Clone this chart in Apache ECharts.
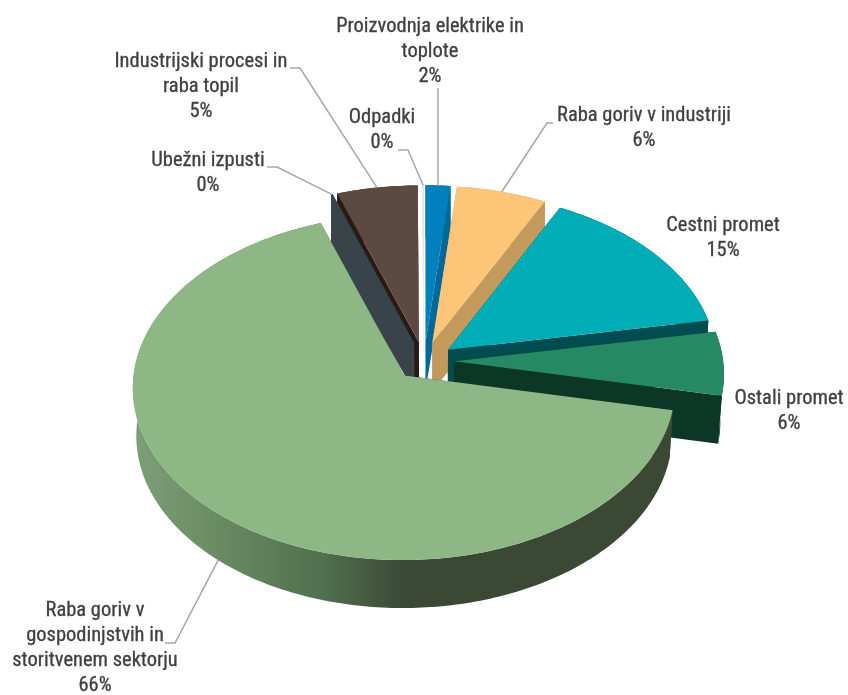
<!DOCTYPE html>
<html><head><meta charset="utf-8">
<style>html,body{margin:0;padding:0;background:#fff}#c{width:848px;height:695px}</style>
<script src="https://cdn.jsdelivr.net/npm/echarts@6/dist/echarts.min.js"></script>
</head><body><div id="c"></div>
<script>
const categories = ['Proizvodnja elektrike in\ntoplote','Raba goriv v industriji','Cestni promet','Ostali promet','Raba goriv v\ngospodinjstvih in\nstoritvenem sektorju','Ubežni izpusti','Industrijski procesi in\nraba topil','Odpadki'];
const shares = [1.6, 5.8, 14.8, 6.0, 66.4, 0.1, 5.2, 0.1];
const topColors = ['#0080BC','#FCC577','#00ACB5','#258A63','#8DB886','#38444A','#5C4A40','#E4E4E4'];
const wallColors = ['#00689A','#C39A5C','#004C50','#0C3727','#3A4834','#38444A','#2A1A16','#E4E4E4'];
const drawRank = [3,4,5,6,7,1,0,2];
const labelCenters = [[430,27],[644,116],[723,226],[789,399],[95,611],[208,161],[201,62],[382,118]];
const leaderElbows = [[[438,88]],[[553,123],[547,123]],null,null,[[165,643],[175,643]],[[267,167],[277,167]],[[290,68],[300,68]],[[398,150],[408,150]]];

const CX=424, CY=361, RX=269, RY=170, PERSP=0.068, EXPL=0.112, DEPTH=48, FAR_DEPTH=4, INSET=0.012;
const total = shares.reduce((a,b)=>a+b,0);
let acc=0;
const spans = shares.map(v=>{const s=acc; acc+=v; return [s/total*2*Math.PI, acc/total*2*Math.PI];});

function proj(u,v,low){
  const s=1/(1-PERSP*v);
  let x=RX*u*s, y=RY*v*s;
  if(low){
    x*=1-INSET*Math.max(0,Math.min(1,v+1));
    y+=DEPTH+FAR_DEPTH*Math.max(0,-v);
  }
  return [CX+x, CY+y];
}
function sliceGeom(i){
  const [a,b]=spans[i], m=(a+b)/2;
  const ox=EXPL*Math.sin(m), oy=-EXPL*Math.cos(m);
  const pt=(t,r,low)=>proj(ox+r*Math.sin(t), oy-r*Math.cos(t), low);
  const n=Math.max(2,Math.ceil((b-a)/(Math.PI/180)));
  const arc=low=>{const p=[];for(let k=0;k<=n;k++){p.push(pt(a+(b-a)*k/n,1,low));}return p;};
  return {a,b,m,pt,arc};
}
function renderSlice(params,api){
  const i=api.value(0), g=sliceGeom(i), r=drawRank[i]*10, children=[];
  const wall=wallColors[i];
  const poly=(points,fill,z2)=>({type:'polygon',shape:{points},style:{fill},z2,silent:true});
  const radial=t=>[g.pt(t,0,false),g.pt(t,1,false),g.pt(t,1,true),g.pt(t,0,true)];
  children.push(poly(radial(g.a),wall,r));
  children.push(poly(radial(g.b),wall,r+1));
  const top=g.arc(false), bot=g.arc(true).reverse();
  let outerFill=wall;
  if(i===4){
    outerFill=new echarts.graphic.LinearGradient(0,0,1,0,[
      {offset:0,color:'#7DA078'},{offset:0.16,color:'#688B62'},{offset:0.35,color:'#51704E'},{offset:0.51,color:'#3A4834'},{offset:1,color:'#3A4834'}]);
  }
  children.push(poly(top.concat(bot),outerFill,r+2));
  children.push(poly([g.pt(g.a,0,false)].concat(top),topColors[i],r+3));
  const e=leaderElbows[i];
  if(e){
    const end=g.pt(g.m,1,i===4);
    children.push({type:'polyline',shape:{points:e.concat([end])},style:{stroke:'#A6A6A6',lineWidth:1.5,fill:null},z2:200,silent:true});
  }
  const lc=labelCenters[i];
  const text=categories[i]+'\n'+Math.round(shares[i])+'%';
  children.push({type:'text',x:lc[0],y:lc[1]-12.5,style:{text,fill:'#404040',font:'20.5px "Liberation Sans Narrow","Roboto Condensed",sans-serif',align:'center',verticalAlign:'top',lineHeight:25,stroke:'#404040',lineWidth:0.3},z2:300,silent:true});
  return {type:'group',children};
}
const chart=echarts.init(document.getElementById('c'),null,{renderer:'canvas'});
chart.setOption({
  animation:false,backgroundColor:'#fff',
  series:[{type:'custom',coordinateSystem:'none',silent:true,renderItem:renderSlice,clip:false,
    data:shares.map((v,i)=>[i,v])}]
});
</script></body></html>
